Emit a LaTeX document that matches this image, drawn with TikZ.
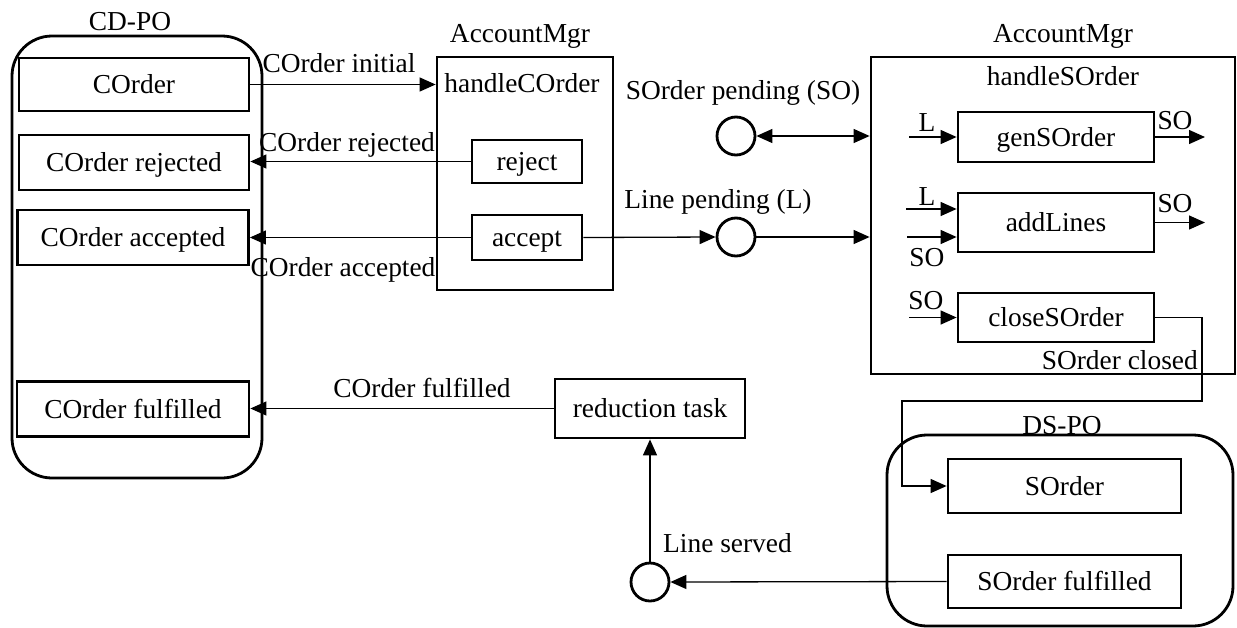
\documentclass[tikz,border=0pt]{standalone}
\usepackage{fontspec}
\setmainfont{Liberation Serif}
\usetikzlibrary{arrows.meta}
\begin{document}
\begin{tikzpicture}[x=1pt,y=-1pt,
  every node/.style={font=\fontsize{27.4}{30}\selectfont, inner sep=0pt, text height=18.1pt, text depth=0pt},
  box/.style={draw, line width=2.8pt, minimum width=#1},
  box/.default=230pt,
  group/.style={draw, line width=2.8pt, rounded corners=40pt},
  place/.style={draw, circle, line width=2.8pt, minimum size=38pt},
  lbl/.style={},
  conn/.style={line width=1.3pt, -{Triangle[length=16pt,width=14pt]}},
  dconn/.style={line width=1.3pt, {Triangle[length=16pt,width=14pt]}-{Triangle[length=16pt,width=14pt]}},
  plain/.style={line width=1.3pt}
]
\useasboundingbox (0,0) rectangle (1237,627);

% CD-PO group
\node[group, minimum width=250pt, minimum height=442pt] (cdpo) at (137,257) {};
\node[lbl] (cdpol) at (130,21) {CD-PO};
\node[box=230pt, minimum height=53pt] (corder) at (134,84.5) {COrder};
\node[box=230pt, minimum height=55pt] (crej) at (134,162.5) {COrder rejected};
\node[box=231pt, minimum height=55pt] (cacc) at (133,237.5) {COrder accepted};
\node[box=232pt, minimum height=55pt] (cful) at (133,409) {COrder fulfilled};

% handleCOrder
\node[box=176pt, minimum height=233pt] (hco) at (525,173.5) {};
\node[lbl] (am1) at (520,33) {AccountMgr};
\node[lbl] (hcol) at (522,83) {handleCOrder};
\node[box=110pt, minimum height=43pt] (reject) at (527,161.5) {reject};
\node[box=110pt, minimum height=45pt] (accept) at (527,237.5) {accept};

% places
\node[place] (so) at (736,136) {};
\node[lbl] (sol) at (743,90) {SOrder pending (SO)};
\node[place] (lp) at (736,237) {};
\node[lbl] (lpl) at (718,199) {Line pending (L)};

% handleSOrder
\node[box=364pt, minimum height=317pt] (hso) at (1053,215.5) {};
\node[lbl] (am2) at (1063,33) {AccountMgr};
\node[lbl] (hsol) at (1063,76) {handleSOrder};
\node[box=196pt, minimum height=50pt] (gen) at (1056,137) {genSOrder};
\node[box=196pt, minimum height=59pt] (add) at (1056,222.5) {addLines};
\node[box=196pt, minimum height=49pt] (cso) at (1056,317.5) {closeSOrder};

% reduction
\node[box=190pt, minimum height=59pt] (red) at (650,408.5) {reduction task};
\node[place] (ls) at (650,582) {};
\node[lbl, anchor=west] (lsl) at (663,543) {Line served};

% DS-PO
\node[group, minimum width=346pt, minimum height=191pt] (dspo) at (1060,530.5) {};
\node[lbl] (dspol) at (1062,425) {DS-PO};
\node[box=233pt, minimum height=54pt] (sorder) at (1064.5,486) {SOrder};
\node[box=233pt, minimum height=53pt] (sful) at (1064.5,581.5) {SOrder fulfilled};

% connectors left
\draw[conn] (corder.east) -- (corder.east -| hco.west);
\node[lbl] (l1) at (339,63) {COrder initial};
\draw[conn] (reject.west) -- (reject.west -| crej.east);
\node[lbl] (l2) at (347,142) {COrder rejected};
\draw[conn] (accept.west) -- (accept.west -| cacc.east);
\node[lbl] (l3) at (343,267) {COrder accepted};
\draw[conn] (red.west) -- (red.west -| cful.east);
\node[lbl] (l4) at (422,388) {COrder fulfilled};

% places connectors
\draw[dconn] (so.east) -- (so.east -| hso.west);
\draw[conn] (accept.east) -- (lp.west);
\draw[conn] (lp.east) -- (lp.east -| hso.west);

% inner arrows of handleSOrder
\coordinate (gin) at (909,137);
\draw[conn] (gin) -- (gin -| gen.west);
\node[lbl] (gL) at (927,122) {L};
\coordinate (gout) at (1205,137);
\draw[conn] (gen.east) -- (gout);
\node[lbl] (gSO) at (1175,120) {SO};

\coordinate (ain1) at (906,209);
\draw[conn] (ain1) -- (ain1 -| add.west);
\node[lbl] (aL) at (927,196) {L};
\coordinate (ain2) at (907,237);
\draw[conn] (ain2) -- (ain2 -| add.west);
\node[lbl] (aSOin) at (927,257) {SO};
\coordinate (aout) at (1205,222.5);
\draw[conn] (add.east) -- (aout);
\node[lbl] (aSO) at (1175,203) {SO};

\coordinate (cin) at (909,317.5);
\draw[conn] (cin) -- (cin -| cso.west);
\node[lbl] (cSO) at (926,300) {SO};
\node[lbl, anchor=east] (scl) at (1198,360) {SOrder closed};

% closeSOrder to SOrder
\coordinate (k1) at (1202,401);
\coordinate (k2) at (902,401);
\draw[conn] (cso.east) -| (k1) -- (k2) |- (sorder.west);

% bottom
\draw[conn] (sful.west) -- (ls.east);
\draw[conn] (ls.north) -- (red.south);
\end{tikzpicture}
\end{document}
